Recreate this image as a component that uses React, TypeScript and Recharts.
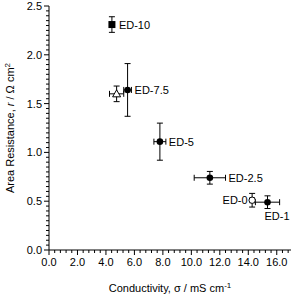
import { ErrorBar, Label, Scatter, ScatterChart, XAxis, YAxis } from 'recharts'

const labels = ['ED-10', 'ED-7.5', '', 'ED-5', 'ED-2.5', 'ED-0', 'ED-1']
const conductivity = [4.42, 5.52, 4.75, 7.79, 11.3, 14.27, 15.35]
const conductivityErr = [0, 0.27, 0.5, 0.42, 1.1, 0.15, 0.85]
const resistance = [2.31, 1.64, 1.6, 1.11, 0.74, 0.51, 0.49]
const resistanceErr = [0.08, 0.27, 0.08, 0.19, 0.065, 0.07, 0.065]
const markers = ['square', 'dot', 'triangle', 'dot', 'dot', 'ring', 'dot']
const labelSides = ['right', 'right', 'none', 'right', 'right', 'left', 'below']

const xMajorTicks = [0, 2, 4, 6, 8, 10, 12, 14, 16]
const yMajorTicks = [0, 0.5, 1, 1.5, 2, 2.5]
const X_MAX = 17
const X_MINOR = 0.4
const Y_MAX = 2.5
const Y_MINOR = 0.05

const WIDTH = 294
const HEIGHT = 296
const MARGIN = { top: 6, right: 3, bottom: 0, left: 0 }
const Y_AXIS_W = 49
const X_AXIS_H = 46
const PX_PER_X = (WIDTH - MARGIN.right - Y_AXIS_W) / X_MAX
const FONT = '"Liberation Sans", Arial, sans-serif'

const minorTicks = (max: number, step: number) =>
  Array.from({ length: Math.floor(max / step + 1e-9) + 1 }, (_, i) => i * step)

const isMajor = (v: number, majors: number[]) => majors.some((m) => Math.abs(m - v) < 1e-6)

const data = labels.map((label, i) => ({
  label,
  x: conductivity[i],
  y: resistance[i],
  xErr: conductivityErr[i],
  yErr: resistanceErr[i],
  marker: markers[i],
  side: labelSides[i],
}))

function XTick(props: any) {
  const { x, y, payload } = props
  const major = isMajor(payload.value, xMajorTicks)
  return (
    <g>
      <line x1={x} y1={y} x2={x} y2={y + (major ? 5 : 3)} stroke="#000" />
      {major && (
        <text x={x} y={y + 16} textAnchor="middle" fontSize={11} fontFamily={FONT} fill="#000">
          {payload.value.toFixed(1)}
        </text>
      )}
    </g>
  )
}

function YTick(props: any) {
  const { x, y, payload } = props
  const major = isMajor(payload.value, yMajorTicks)
  return (
    <g>
      <line x1={x - (major ? 5 : 3)} y1={y} x2={x} y2={y} stroke="#000" />
      {major && (
        <text x={x - 7} y={y + 4} textAnchor="end" fontSize={11} fontFamily={FONT} fill="#000">
          {payload.value.toFixed(1)}
        </text>
      )}
    </g>
  )
}

function PointShape(props: any) {
  const { cx, cy, payload } = props
  let mark = null
  if (payload.marker === 'square') {
    mark = <rect x={cx - 3.5} y={cy - 3.5} width={7} height={7} fill="#000" />
  } else if (payload.marker === 'dot') {
    mark = <circle cx={cx} cy={cy} r={3.3} fill="#000" />
  } else if (payload.marker === 'ring') {
    mark = <circle cx={cx} cy={cy} r={3.2} fill="#fff" stroke="#000" strokeWidth={1} />
  } else {
    mark = (
      <polygon
        points={`${cx},${cy - 4} ${cx + 4},${cy + 3} ${cx - 4},${cy + 3}`}
        fill="#fff"
        stroke="#000"
        strokeWidth={1}
      />
    )
  }
  const gap = Math.max(payload.xErr * PX_PER_X, 4)
  let text = null
  if (payload.side === 'right') {
    text = (
      <text x={cx + gap + 3} y={cy + 4} fontSize={11} fontFamily={FONT} fill="#000">
        {payload.label}
      </text>
    )
  } else if (payload.side === 'left') {
    text = (
      <text x={cx - 4.5} y={cy + 4} textAnchor="end" fontSize={11} fontFamily={FONT} fill="#000">
        {payload.label}
      </text>
    )
  } else if (payload.side === 'below') {
    text = (
      <text x={cx - 3} y={cy + 18} fontSize={11} fontFamily={FONT} fill="#000">
        {payload.label}
      </text>
    )
  }
  return (
    <g>
      {mark}
      {text}
    </g>
  )
}

function XTitle(props: any) {
  const { viewBox } = props
  return (
    <text
      x={viewBox.x + viewBox.width / 2}
      y={viewBox.y + 42}
      textAnchor="middle"
      fontSize={11}
      fontFamily={FONT}
      fill="#000"
    >
      Conductivity, σ / mS cm<tspan dy={-4} fontSize={8}>-1</tspan>
    </text>
  )
}

function YTitle(props: any) {
  const { viewBox } = props
  const x = viewBox.x + 14
  const y = viewBox.y + viewBox.height / 2
  return (
    <text
      x={x}
      y={y}
      transform={`rotate(-90, ${x}, ${y})`}
      textAnchor="middle"
      fontSize={11}
      fontFamily={FONT}
      fill="#000"
    >
      Area Resistance, <tspan fontStyle="italic">r</tspan> / Ω cm<tspan dy={-4} fontSize={8}>2</tspan>
    </text>
  )
}

export default function App() {
  return (
    <div style={{ position: 'absolute', left: 0, top: 0, background: '#fff' }}>
      <ScatterChart width={WIDTH} height={HEIGHT} margin={MARGIN}>
        <XAxis
          type="number"
          dataKey="x"
          domain={[0, X_MAX]}
          ticks={minorTicks(X_MAX, X_MINOR)}
          interval={0}
          tickSize={0}
          tickMargin={0}
          tick={<XTick />}
          height={X_AXIS_H}
          stroke="#000"
          allowDataOverflow
        >
          <Label content={<XTitle />} />
        </XAxis>
        <YAxis
          type="number"
          dataKey="y"
          domain={[0, Y_MAX]}
          ticks={minorTicks(Y_MAX, Y_MINOR)}
          interval={0}
          tickSize={0}
          tickMargin={0}
          tick={<YTick />}
          width={Y_AXIS_W}
          stroke="#000"
          allowDataOverflow
        >
          <Label content={<YTitle />} />
        </YAxis>
        <Scatter data={data} shape={<PointShape />} isAnimationActive={false}>
          <ErrorBar dataKey="xErr" direction="x" width={3} stroke="#000" strokeWidth={1} isAnimationActive={false} />
          <ErrorBar dataKey="yErr" direction="y" width={3} stroke="#000" strokeWidth={1} isAnimationActive={false} />
        </Scatter>
      </ScatterChart>
    </div>
  )
}
